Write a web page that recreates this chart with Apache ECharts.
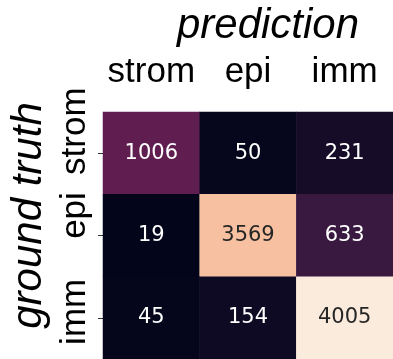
<!DOCTYPE html>
<html>
<head>
<meta charset="utf-8">
<script src="https://cdn.jsdelivr.net/npm/echarts@6/dist/echarts.min.js"></script>
<style>
  html, body { margin: 0; padding: 0; background: #fff; }
  #chart { width: 393px; height: 359px; }
</style>
</head>
<body>
<div id="chart"></div>
<script>
// Confusion matrix: rows = ground truth, columns = prediction
const classes = ['strom', 'epi', 'imm'];
const rowStrom = [1006, 50, 231];
const rowEpi = [19, 3569, 633];
const rowImm = [45, 154, 4005];
const matrix = [rowStrom, rowEpi, rowImm];

// "rocket" colour ramp
const rocket = ['#03051a', '#35193e', '#701f57', '#ad1759', '#e13342', '#f37651', '#f6b48f', '#faebdd'];

const flat = matrix.flat();
const vMin = Math.min(...flat);
const vMax = Math.max(...flat);

const cells = [];
matrix.forEach((row, r) => {
  row.forEach((v, c) => {
    const light = (v - vMin) / (vMax - vMin) > 0.7;
    cells.push({
      value: [c, r, v],
      label: { color: light ? '#262626' : '#ffffff' }
    });
  });
});

// rotated row labels sit slightly above their ticks
const rowLift = [44, 40, 12];
const rowLabels = classes.map((name, i) => ({
  value: name,
  textStyle: { padding: [0, 0, 0, rowLift[i]] }
}));

const chart = echarts.init(document.getElementById('chart'), null, { renderer: 'canvas' });
chart.setOption({
  animation: false,
  backgroundColor: '#ffffff',
  grid: { left: 95, top: 107, width: 312, height: 255 },
  xAxis: {
    type: 'category',
    position: 'top',
    data: classes,
    name: 'prediction',
    nameLocation: 'middle',
    nameGap: 65,
    nameTextStyle: { fontFamily: 'Liberation Sans', fontStyle: 'italic', fontSize: 42, color: '#000', padding: [0, 0, 0, 40] },
    axisLine: { show: false },
    axisTick: { show: false },
    splitLine: { show: false },
    axisLabel: { interval: 0, hideOverlap: false, fontFamily: 'Liberation Sans', fontSize: 35, color: '#000', margin: 22 }
  },
  yAxis: {
    type: 'category',
    inverse: true,
    data: rowLabels,
    name: 'ground truth',
    nameLocation: 'middle',
    nameGap: 53,
    nameRotate: 90,
    nameTextStyle: { fontFamily: 'Liberation Sans', fontStyle: 'italic', fontSize: 42, color: '#000', padding: [0, 0, 0, 40] },
    axisLine: { show: false },
    axisTick: { show: true, alignWithLabel: true, length: 5, lineStyle: { color: '#333', width: 1 } },
    splitLine: { show: false },
    axisLabel: { interval: 0, hideOverlap: false, fontFamily: 'Liberation Sans', fontSize: 35, color: '#000', rotate: 90, margin: 10 }
  },
  visualMap: {
    show: false,
    min: vMin,
    max: vMax,
    dimension: 2,
    inRange: { color: rocket }
  },
  series: [{
    type: 'heatmap',
    data: cells,
    label: {
      show: true,
      fontFamily: 'DejaVu Sans',
      fontSize: 21,
      formatter: p => String(p.value[2])
    },
    itemStyle: { borderWidth: 0 },
    emphasis: { disabled: true }
  }]
});
</script>
</body>
</html>
